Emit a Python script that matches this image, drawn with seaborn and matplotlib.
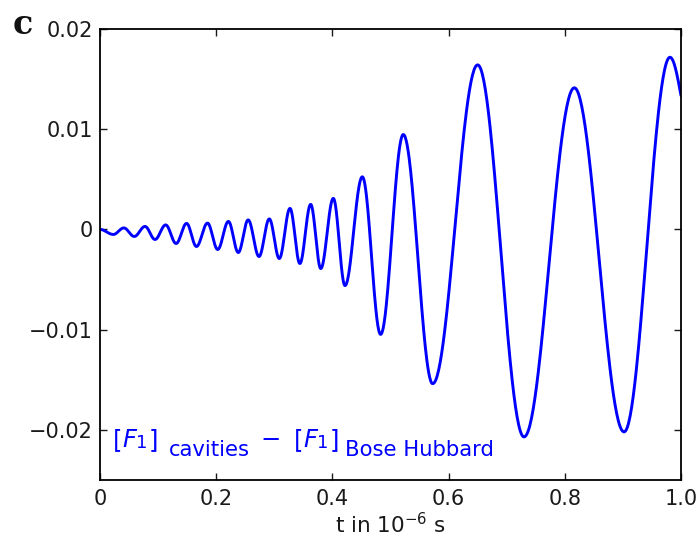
import numpy as np
import pandas as pd
import matplotlib
matplotlib.use("Agg")
import matplotlib.pyplot as plt
import seaborn as sns

# Turning points of the fidelity difference (time in microseconds, value)
t_turn = [0.0, 0.023, 0.041, 0.059, 0.0775, 0.0947, 0.113, 0.131, 0.149, 0.166,
          0.185, 0.2026, 0.221, 0.238, 0.255, 0.2737, 0.2914, 0.3086, 0.327, 0.344,
          0.3626, 0.380, 0.4016, 0.4217, 0.4515, 0.483, 0.522, 0.5726, 0.650, 0.7298,
          0.8164, 0.902, 0.981]
v_turn = [0.0, -0.0005, 0.00015, -0.0007, 0.0003, -0.001, 0.00045, -0.0014, 0.0006, -0.0017,
          0.00063, -0.002, 0.0008, -0.0023, 0.00095, -0.0027, 0.00105, -0.0029, 0.0021, -0.0034,
          0.0025, -0.0039, 0.0031, -0.0056, 0.00525, -0.01047, 0.00947, -0.01539, 0.01642, -0.0207,
          0.01413, -0.0202, 0.01718]
t_end = 1.0
v_end = 0.01336

x_ticks = [0, 0.2, 0.4, 0.6, 0.8, 1.0]
x_ticklabels = ["0", "0.2", "0.4", "0.6", "0.8", "1.0"]
y_ticks = [-0.02, -0.01, 0, 0.01, 0.02]
y_ticklabels = ["\u22120.02", "\u22120.01", "0", "0.01", "0.02"]

# Smooth half-cosine swings between successive turning points
ts, vs = [], []
for i in range(len(t_turn) - 1):
    a, b = t_turn[i], t_turn[i + 1]
    va, vb = v_turn[i], v_turn[i + 1]
    s = np.linspace(0, 1, 60, endpoint=False)
    ts.append(a + (b - a) * s)
    vs.append(vb + (va - vb) * (1 + np.cos(np.pi * s)) / 2)
# last stretch leaves the final crest and runs to the right edge
s = np.linspace(0, 1, 40)
ts.append(t_turn[-1] + (t_end - t_turn[-1]) * s)
vs.append(v_end + (v_turn[-1] - v_end) * np.cos(np.pi / 2 * s))
curve = pd.DataFrame({"t": np.concatenate(ts), "dF": np.concatenate(vs)})

sns.set_style("ticks")
plt.rcParams["font.family"] = ["DejaVu Sans"]
plt.rcParams["mathtext.fontset"] = "dejavusans"

W, H = 698, 545
fig = plt.figure(figsize=(W / 100, H / 100), dpi=100)
ax = fig.add_axes([100 / W, 1 - 480 / H, 581 / W, 451 / H])

sns.lineplot(data=curve, x="t", y="dF", color="#0000ff", linewidth=2.1,
             ax=ax, sort=False, estimator=None)

ax.set_xlim(0, 1.0)
ax.set_ylim(-0.025, 0.02)
ax.set_xticks(x_ticks)
ax.set_xticklabels(x_ticklabels)
ax.set_yticks(y_ticks)
ax.set_yticklabels(y_ticklabels)
ax.tick_params(direction="in", length=5, width=1.0, top=True, right=True,
               labelsize=15, colors="#1a1a1a")
ax.tick_params(axis="x", pad=6.5)
ax.tick_params(axis="y", pad=5)
for sp in ax.spines.values():
    sp.set_visible(True)
    sp.set_linewidth(1.3)
    sp.set_color("black")

ax.set_xlabel(r"t in 10$^{-6}$ s", fontsize=15.5, color="#1a1a1a", labelpad=2)
ax.set_ylabel("")


def rich_text(pieces, x_px, base_px, color):
    """Lay out text pieces one after another along a baseline (pixel units)."""
    renderer = fig.canvas.get_renderer()
    x = x_px
    for txt, size, style, dy, gap in pieces:
        x += gap
        t = fig.text(x / W, 1 - (base_px + dy) / H, txt, fontsize=size,
                     fontstyle=style, color=color, ha="left", va="baseline")
        x += t.get_window_extent(renderer).width


label_pieces = [
    ("[", 17.5, "normal", 0, 0),
    ("F", 17.5, "italic", 0, 0),
    ("1", 13, "normal", 1.5, 0),
    ("]", 17.5, "normal", 0, 1),
    ("cavities", 15.2, "normal", 8.5, 10),
    ("\u2212", 17.5, "normal", 0, 11),
    ("[", 17.5, "normal", 0, 13),
    ("F", 17.5, "italic", 0, 0),
    ("1", 13, "normal", 1.5, 0),
    ("]", 17.5, "normal", 0, 1),
    ("Bose Hubbard", 15.2, "normal", 8.5, 6),
]
rich_text(label_pieces, 113, 447, "#0000ff")

fig.text(22.5 / W, 1 - 24 / H, "c", fontsize=24, family="DejaVu Serif",
         fontweight="bold", ha="center", va="center", color="#111111")

fig.savefig("out.png", dpi=100)
